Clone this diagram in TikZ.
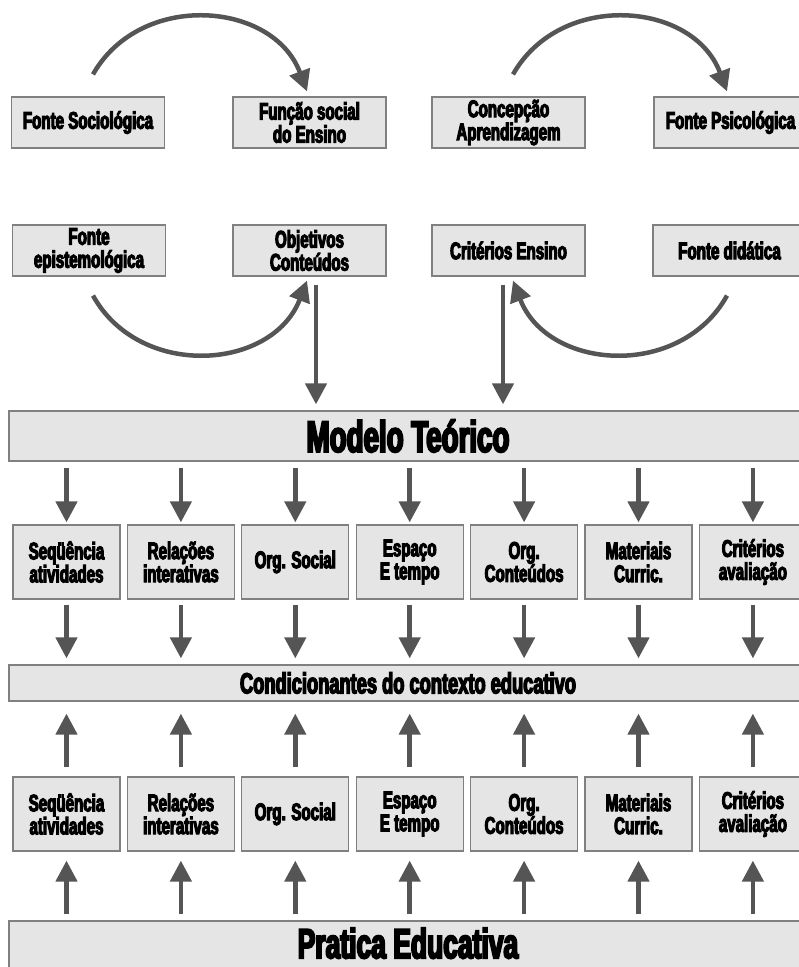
\documentclass[tikz,border=0pt]{standalone}
\usepackage{fontspec}
\usepackage{xcolor}
\usetikzlibrary{arrows.meta}
\newfontfamily\impactish[FakeStretch=0.63,BoldFeatures={FakeBold=4.5}]{Liberation Sans}
\definecolor{boxgray}{RGB}{229,229,229}
\definecolor{linegray}{RGB}{128,128,128}
\definecolor{arrowgray}{RGB}{85,85,85}

\begin{document}
\begin{tikzpicture}[x=1pt, y=1pt,
    box/.style = {draw=linegray, fill=boxgray, line width=1.2pt, align=center, inner sep=0pt,
                  font=\impactish\bfseries\fontsize{24}{23}\selectfont},
    fonte/.style = {box, minimum width=153pt, minimum height=51pt},
    elem/.style = {box, minimum width=107pt, minimum height=74pt},
    faixa/.style = {box, minimum width=798pt},
    seta/.style = {draw=arrowgray, line width=4.5pt, -{Triangle[width=21pt,length=21pt]}}]
  \useasboundingbox (0,0) rectangle (799,967);
  \clip (0,0) rectangle (799,967);

  \node[fonte] (soc)  at (88,844.5)    {Fonte Sociológica};
  \node[fonte] (func) at (309.5,844.5) {Função social\\do Ensino};
  \node[fonte] (conc) at (508.5,844.5) {Concepção\\Aprendizagem};
  \node[fonte] (psic) at (730.5,844.5) {Fonte Psicológica};
  \node[fonte] (epis) at (89,716.5)    {Fonte\\epistemológica};
  \node[fonte] (obj)  at (309.5,716.5) {Objetivos\\Conteúdos};
  \node[fonte] (crit) at (508.5,716.5) {Critérios Ensino};
  \node[fonte] (did)  at (729.5,716.5) {Fonte didática};

  \draw[seta] ([shift={(5,22)}]soc.north) to[bend left=65, looseness=1.15] ([shift={(-2.5,5)}]func.north);
  \draw[seta] ([shift={(4.5,22)}]conc.north) to[bend left=65, looseness=1.15] ([shift={(-3.5,5)}]psic.north);
  \draw[seta] ([shift={(4,-19)}]epis.south) to[bend right=65, looseness=1.15] ([shift={(-2.5,-4)}]obj.south);
  \draw[seta] ([shift={(-2.5,-19)}]did.south) to[bend left=65, looseness=1.15] ([shift={(4.5,-4)}]crit.south);

  \node[faixa, minimum height=50pt, font=\impactish\bfseries\fontsize{44}{45}\selectfont]
    (modelo) at (408,531) {Modelo Teórico};
  \node[faixa, minimum height=36pt, font=\impactish\bfseries\fontsize{29}{30}\selectfont]
    (cond) at (408,284) {Condicionantes do contexto educativo};
  \node[faixa, minimum height=48pt, font=\impactish\bfseries\fontsize{42}{44}\selectfont]
    (pratica) at (408,22) {\raisebox{4pt}{Pratica Educativa}};

  \draw[seta, shorten <=8pt, shorten >=6pt] ([xshift=6.5pt]obj.south) -- ([xshift=6.5pt]obj.south |- modelo.north);
  \draw[seta, shorten <=8pt, shorten >=6pt] ([xshift=-5.5pt]crit.south) -- ([xshift=-5.5pt]crit.south |- modelo.north);

  \foreach \t [count=\i from 0] in {{Seqüência\\atividades}, {Relações\\interativas}, {Org. Social},
      {Espaço\\E tempo}, {Org.\\Conteúdos}, {Materiais\\Curric.}, {Critérios\\avaliação}} {
    \node[elem] (a\i) at (66.5+114.4*\i,405) {\t};
    \node[elem] (b\i) at (66.5+114.4*\i,153) {\t};
    \draw[seta, shorten <=6pt, shorten >=2pt] (modelo.south -| a\i) -- (a\i.north);
    \draw[seta, shorten <=5pt, shorten >=6pt] (a\i.south) -- (cond.north -| a\i);
    \draw[seta, shorten <=9pt, shorten >=12pt] (b\i.north) -- (cond.south -| b\i);
    \draw[seta, shorten <=6pt, shorten >=9pt] (pratica.north -| b\i) -- (b\i.south);
  }
\end{tikzpicture}
\end{document}
